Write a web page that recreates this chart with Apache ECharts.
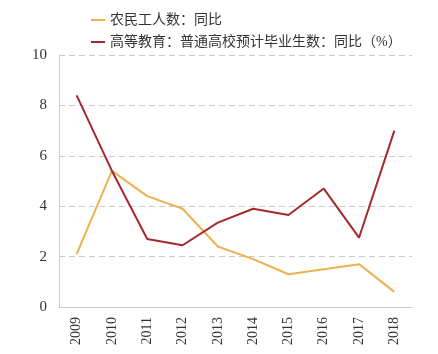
<!DOCTYPE html>
<html>
<head>
<meta charset="utf-8">
<script src="https://cdn.jsdelivr.net/npm/echarts@6/dist/echarts.min.js"></script>
<style>
  html, body { margin: 0; padding: 0; background: #fff; }
  #chart { width: 438px; height: 354px; }
</style>
</head>
<body>
<div id="chart"></div>
<script>
// 数据
const years = ["2009", "2010", "2011", "2012", "2013", "2014", "2015", "2016", "2017", "2018"];
const migrantWorkers = [2.1, 5.4, 4.4, 3.9, 2.4, 1.9, 1.3, 1.5, 1.7, 0.6];
const graduates = [8.4, 5.4, 2.7, 2.45, 3.35, 3.9, 3.65, 4.7, 2.75, 7.0];
const yTicks = [0, 2, 4, 6, 8, 10];

const SERIF = "'Liberation Serif', 'Noto Sans CJK SC', serif";

const chart = echarts.init(document.getElementById("chart"));
chart.setOption({
  animation: false,
  color: ["#EDB14F", "#A6282F"],
  legend: {
    orient: "vertical",
    left: 86,
    top: 8,
    itemGap: 8,
    itemWidth: 14,
    itemHeight: 2,
    icon: "rect",
    textStyle: { fontFamily: SERIF, fontSize: 14, color: "#333" },
    data: ["农民工人数：同比", "高等教育：普通高校预计毕业生数：同比（%）"],
  },
  grid: { left: 59, top: 55, right: 26, bottom: 47 },
  xAxis: {
    type: "category",
    data: years,
    boundaryGap: true,
    axisLine: { lineStyle: { color: "#ccc" } },
    axisTick: { show: false },
    axisLabel: { rotate: 90, color: "#333", fontFamily: SERIF, fontSize: 14, margin: 10 },
  },
  yAxis: {
    type: "value",
    min: yTicks[0],
    max: yTicks[yTicks.length - 1],
    interval: 2,
    axisLine: { show: true, lineStyle: { color: "#ccc" } },
    axisTick: { show: false },
    axisLabel: { color: "#333", fontFamily: SERIF, fontSize: 15, margin: 12 },
    splitLine: { lineStyle: { color: "#ccc", type: [6, 4] } },
  },
  series: [
    {
      name: "农民工人数：同比",
      type: "line",
      data: migrantWorkers,
      symbol: "none",
      lineStyle: { width: 2 },
    },
    {
      name: "高等教育：普通高校预计毕业生数：同比（%）",
      type: "line",
      data: graduates,
      symbol: "none",
      lineStyle: { width: 2 },
    },
  ],
});
</script>
</body>
</html>
